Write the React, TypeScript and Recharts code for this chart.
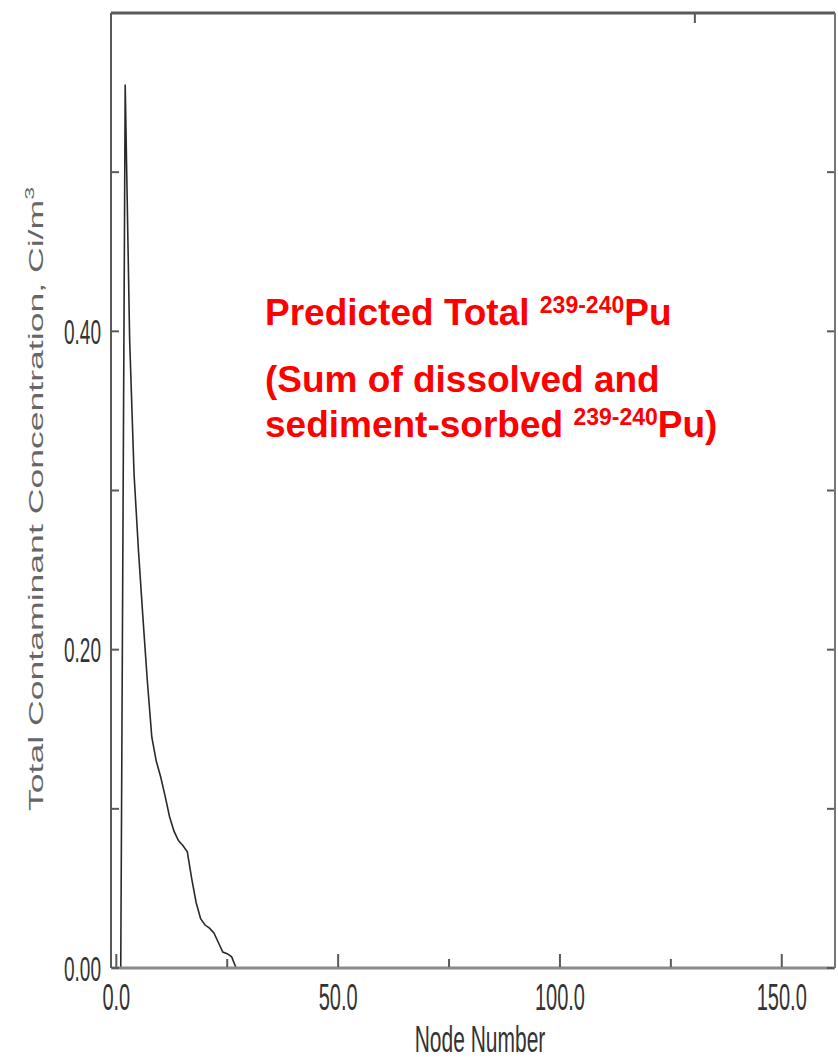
import { LineChart, Line, XAxis, YAxis } from 'recharts';

// node numbers along the profile and total Pu concentration (Ci/m3)
const nodeNumbers = [
  0, 1, 2, 3, 4, 5, 6, 7, 8, 9, 10, 11, 12, 13, 14, 15, 16, 17, 18, 19, 20,
  21, 22, 23, 24, 25, 26, 27, 50, 100, 150, 162,
];
const totalConc = [
  0, 0, 0.555, 0.395, 0.31, 0.262, 0.22, 0.18, 0.145, 0.13, 0.12, 0.108, 0.095,
  0.086, 0.08, 0.077, 0.073, 0.056, 0.041, 0.031, 0.027, 0.025, 0.022, 0.016,
  0.01, 0.009, 0.007, 0, 0, 0, 0, 0,
];

const xTicks = [0, 25, 50, 75, 100, 125, 150];
const xLabelled = [0, 50, 100, 150];
const yTicks = [0, 0.1, 0.2, 0.3, 0.4, 0.5];
const yLabelled = [0, 0.2, 0.4];

const data = nodeNumbers.map((n, i) => ({ node: n, total: totalConc[i] }));

const AXIS = '#5a5a5a';
const FONT = '"Liberation Sans", Arial, sans-serif';

const BottomTick = (props: any) => {
  const { x, y, payload } = props;
  const major = xLabelled.includes(payload.value);
  return (
    <g>
      <line x1={x} x2={x} y1={y - 1} y2={y - 1 - (major ? 13 : 8)} stroke={AXIS} strokeWidth={2} />
      {major && (
        <text
          transform={`translate(${x},${y + 29}) scale(1,1.85)`}
          textAnchor="middle"
          dy="0.36em"
          fontSize={20}
          fontFamily={FONT}
          fill="#333"
        >
          {payload.value.toFixed(1)}
        </text>
      )}
    </g>
  );
};

const TopTick = (props: any) => {
  const { x, y } = props;
  return <line x1={x} x2={x} y1={y + 1} y2={y + 10} stroke={AXIS} strokeWidth={2} />;
};

const LeftTick = (props: any) => {
  const { x, y, payload } = props;
  const major = yLabelled.includes(payload.value);
  return (
    <g>
      <line x1={x + 1} x2={x + 8} y1={y} y2={y} stroke={AXIS} strokeWidth={2} />
      {major && (
        <text
          transform={`translate(${x - 10},${y}) scale(1,1.85)`}
          textAnchor="end"
          dy="0.36em"
          fontSize={19}
          fontFamily={FONT}
          fill="#333"
        >
          {payload.value.toFixed(2)}
        </text>
      )}
    </g>
  );
};

const RightTick = (props: any) => {
  const { x, y } = props;
  return <line x1={x - 1} x2={x - 8} y1={y} y2={y} stroke={AXIS} strokeWidth={2} />;
};

const XTitle = () => (
  <text
    transform="translate(480,1038) scale(1,1.8)"
    textAnchor="middle"
    dy="0.36em"
    fontSize={21}
    fontFamily={FONT}
    fill="#333"
  >
    Node Number
  </text>
);

const YTitle = () => (
  <text
    transform="translate(43,499) rotate(-90) scale(1.78,1)"
    textAnchor="middle"
    fontSize={20}
    fontFamily={FONT}
    fill="#666"
  >
    Total Contaminant Concentration, Ci/m
    <tspan fontSize={13} dy={-9}>3</tspan>
  </text>
);

const RED = '#ff0000';

export default function App() {
  return (
    <div style={{ position: 'absolute', left: 0, top: 0, width: 838, height: 1058, background: '#fff' }}>
      <LineChart
        width={838}
        height={1058}
        data={data}
        margin={{ top: 12, right: 2, bottom: 89, left: 110 }}
      >
        <XAxis
          dataKey="node"
          type="number"
          domain={[-1.2, 162]}
          allowDataOverflow
          ticks={xTicks}
          interval={0}
          height={1}
          tickSize={0}
          tickMargin={0}
          tickLine={false}
          tick={<BottomTick />}
          axisLine={{ stroke: '#8a8a8a', strokeWidth: 3 }}
          label={<XTitle />}
        />
        <XAxis
          xAxisId="top"
          orientation="top"
          type="number"
          domain={[-1.2, 162]}
          allowDataOverflow
          ticks={xTicks}
          interval={0}
          height={1}
          tickSize={0}
          tickMargin={0}
          tickLine={false}
          tick={<TopTick />}
          axisLine={{ stroke: AXIS, strokeWidth: 3 }}
        />
        <YAxis
          type="number"
          domain={[0, 0.6]}
          allowDataOverflow
          ticks={yTicks}
          interval={0}
          width={1}
          tickSize={0}
          tickMargin={0}
          tickLine={false}
          tick={<LeftTick />}
          axisLine={{ stroke: AXIS, strokeWidth: 2 }}
          label={<YTitle />}
        />
        <YAxis
          yAxisId="right"
          orientation="right"
          type="number"
          domain={[0, 0.6]}
          allowDataOverflow
          ticks={yTicks}
          interval={0}
          width={1}
          tickSize={0}
          tickMargin={0}
          tickLine={false}
          tick={<RightTick />}
          axisLine={{ stroke: '#777', strokeWidth: 2 }}
        />
        <Line
          type="linear"
          dataKey="total"
          stroke="#2a2a2a"
          strokeWidth={1.6}
          dot={false}
          isAnimationActive={false}
        />
      </LineChart>
      <svg
        width={838}
        height={1058}
        style={{ position: 'absolute', left: 0, top: 0, pointerEvents: 'none' }}
      >
        <g fontFamily={FONT} fontWeight="bold" fill={RED}>
          <text x={265} y={325} fontSize={37}>
            Predicted Total{' '}
            <tspan fontSize={23} dy={-12}>239-240</tspan>
            <tspan dy={12}>Pu</tspan>
          </text>
          <text x={265} y={392} fontSize={37}>
            (Sum of dissolved and
          </text>
          <text x={265} y={437} fontSize={37}>
            sediment-sorbed{' '}
            <tspan fontSize={23} dy={-12}>239-240</tspan>
            <tspan dy={12}>Pu)</tspan>
          </text>
        </g>
      </svg>
    </div>
  );
}
